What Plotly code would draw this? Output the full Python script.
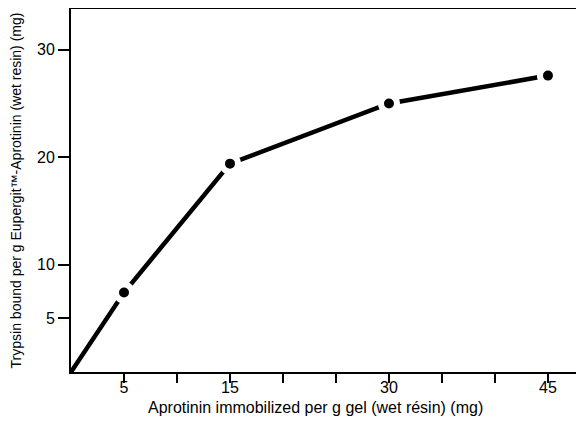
import plotly.graph_objects as go

# Data
x_vals = [0, 5, 15, 30, 45]
y_vals = [0, 7.4, 19.4, 25.0, 27.6]

x_tickvals = [5, 10, 15, 20, 25, 30, 35, 40, 45]
x_ticktext = ["5", "", "15", "", "", "30", "", "", "45"]
y_tickvals = [5, 10, 20, 30]
y_ticktext = ["5", "10", "20", "30"]

x_title = "Aprotinin immobilized per g gel (wet résin) (mg)"
y_title = "Trypsin bound per g Eupergit\u2122-Aprotinin (wet resin) (mg)"

FONT = "Liberation Sans, Arial, sans-serif"

fig = go.Figure()
fig.add_trace(go.Scatter(
    x=x_vals, y=y_vals, mode="lines",
    line=dict(color="black", width=4.5),
    hoverinfo="skip", showlegend=False,
))
fig.add_trace(go.Scatter(
    x=x_vals[1:], y=y_vals[1:], mode="markers",
    marker=dict(color="black", size=16, line=dict(color="white", width=6)),
    showlegend=False,
))

fig.add_annotation(
    text=x_title, xref="paper", yref="paper", x=0.4766, y=-0.097,
    xanchor="center", yanchor="middle", showarrow=False,
    font=dict(size=16, family=FONT, color="black"),
)

fig.update_layout(
    width=584, height=434,
    margin=dict(l=63, r=8, t=1, b=70, autoexpand=False),
    paper_bgcolor="white", plot_bgcolor="white",
    font=dict(family=FONT, color="black", size=16),
    xaxis=dict(
        range=[0, 48.4], showgrid=False, zeroline=False, automargin=False,
        showline=True, linecolor="black", linewidth=2, mirror=True,
        ticks="outside", ticklen=9, tickwidth=2, tickcolor="black",
        tickvals=x_tickvals, ticktext=x_ticktext,
        tickfont=dict(size=16), ticklabelstandoff=-9,
    ),
    yaxis=dict(
        range=[0, 33.8], showgrid=False, zeroline=False, automargin=False,
        showline=True, linecolor="black", linewidth=2, mirror=False,
        ticks="outside", ticklen=11, tickwidth=2, tickcolor="black",
        tickvals=y_tickvals, ticktext=y_ticktext,
        tickfont=dict(size=16),
        title=dict(text=y_title, font=dict(size=14), standoff=15),
    ),
)

fig.write_html("out.html")
